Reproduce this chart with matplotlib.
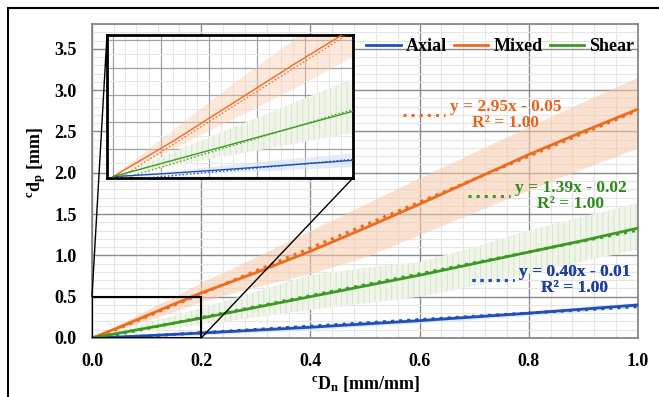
import numpy as np
import matplotlib
matplotlib.use("Agg")
import matplotlib.pyplot as plt
from matplotlib.lines import Line2D
from matplotlib.patches import Rectangle, ConnectionPatch
from matplotlib.ticker import MultipleLocator, FormatStrFormatter

plt.rcParams['font.family'] = 'Liberation Serif'
plt.rcParams['font.weight'] = 'bold'
plt.rcParams['axes.labelweight'] = 'bold'
plt.rcParams['mathtext.fontset'] = 'custom'
plt.rcParams['mathtext.rm'] = 'Liberation Serif:bold'
plt.rcParams['mathtext.it'] = 'Liberation Serif:bold'
plt.rcParams['mathtext.bf'] = 'Liberation Serif:bold'
plt.rcParams['hatch.linewidth'] = 0.6

# data
x = [0, 0.05, 0.1, 0.15, 0.2, 0.3, 0.4, 0.5, 0.6, 0.7, 0.8, 0.9, 1.0]
axial = [0, 0.013, 0.028, 0.044, 0.06, 0.095, 0.13, 0.17, 0.21, 0.255, 0.30, 0.35, 0.40]
mixed = [0, 0.13, 0.27, 0.41, 0.545, 0.79, 1.05, 1.33, 1.62, 1.92, 2.22, 2.5, 2.77]
shear = [0, 0.06, 0.12, 0.18, 0.24, 0.37, 0.5, 0.63, 0.76, 0.9, 1.04, 1.18, 1.33]

axial_hi = [0, 0.02, 0.045, 0.065, 0.085, 0.125, 0.16, 0.2, 0.24, 0.285, 0.33, 0.38, 0.43]
axial_lo = [0, 0.006, 0.015, 0.025, 0.035, 0.065, 0.1, 0.14, 0.18, 0.225, 0.27, 0.32, 0.37]
mixed_hi = [0, 0.17, 0.34, 0.5, 0.67, 0.98, 1.3, 1.62, 1.94, 2.25, 2.56, 2.86, 3.16]
mixed_lo = [0, 0.1, 0.21, 0.32, 0.44, 0.62, 0.78, 0.98, 1.25, 1.52, 1.79, 2.05, 2.3]
shear_hi = [0, 0.09, 0.18, 0.27, 0.36, 0.56, 0.76, 0.85, 0.92, 1.1, 1.3, 1.47, 1.63]
shear_lo = [0, 0.04, 0.08, 0.12, 0.16, 0.25, 0.34, 0.42, 0.5, 0.63, 0.78, 0.93, 1.07]

# trendline labels as printed on the chart
axial_eq = 'y = 0.40x - 0.01\nR² = 1.00'
mixed_eq = 'y = 2.95x - 0.05\nR² = 1.00'
shear_eq = 'y = 1.39x - 0.02\nR² = 1.00'

c_axial = '#1f4fb8'
c_mixed = '#ee6a1c'
c_shear = '#3c9a22'
t_axial = '#1f3f9f'
t_mixed = '#e8621a'
t_shear = '#2f8a1c'

xs = np.array(x)


def draw(a, lw, dot_lw, band_alpha):
    a.fill_between(x, mixed_lo, mixed_hi, color='#f9c9a8', alpha=band_alpha, lw=0)
    a.fill_between(x, shear_lo, shear_hi, facecolor='#f0f5ea', edgecolor='#d2e2c4',
                   hatch='|||', lw=0)
    a.fill_between(x, axial_lo, axial_hi, color='#d5def3', alpha=0.6, lw=0)
    for ys, c in [(axial, c_axial), (mixed, c_mixed), (shear, c_shear)]:
        k, b = np.polyfit(xs, ys, 1)
        a.plot(xs, k * xs + b, ls=':', color=c, lw=dot_lw, zorder=3)
    a.plot(x, axial, color=c_axial, lw=lw, zorder=4, label='Axial')
    a.plot(x, mixed, color=c_mixed, lw=lw, zorder=4, label='Mixed')
    a.plot(x, shear, color=c_shear, lw=lw, zorder=4, label='Shear')


fig = plt.figure(figsize=(6.59, 3.97), dpi=100)
ax = fig.add_axes([92/659, 1-338/397, 546/659, 314/397])
draw(ax, 2.0, 2.2, 0.55)

ax.set_xlim(0, 1.0)
ax.set_ylim(0, 3.8)
ax.xaxis.set_major_locator(MultipleLocator(0.2))
ax.xaxis.set_minor_locator(MultipleLocator(0.04))
ax.yaxis.set_major_locator(MultipleLocator(0.5))
ax.yaxis.set_minor_locator(MultipleLocator(0.1))
ax.grid(which='major', color='#8c8c8c', lw=1.0)
ax.grid(which='minor', color='#e4e4e4', lw=0.8)
ax.set_axisbelow(True)
for s in ax.spines.values():
    s.set_color('#7f7f7f')
    s.set_linewidth(1.2)
ax.tick_params(which='both', length=0, labelsize=13)
ax.tick_params(axis='x', pad=11)
ax.tick_params(axis='y', pad=11)
ax.xaxis.set_major_formatter(FormatStrFormatter('%.1f'))
ax.yaxis.set_major_formatter(FormatStrFormatter('%.1f'))
ax.set_xlabel(r'$^{\mathrm{c}}\mathrm{D}_{\mathrm{n}}$ [mm/mm]', fontsize=13, labelpad=3)
ax.set_ylabel(r'$^{\mathrm{c}}\mathrm{d}_{\mathrm{p}}$ [mm]', fontsize=13)
ax.yaxis.set_label_coords(-0.08, 0.56)

leg = ax.legend(loc='upper right', ncol=3, frameon=False, fontsize=13,
                handlelength=1.9, handletextpad=0.28, columnspacing=0.4,
                bbox_to_anchor=(0.993, 0.955), borderaxespad=0, borderpad=0)
ax.add_artist(leg)

for label, c, tc, pos in [(mixed_eq, c_mixed, t_mixed, (0.57, 0.71)),
                          (shear_eq, c_shear, t_shear, (0.689, 0.452)),
                          (axial_eq, c_axial, t_axial, (0.696, 0.185))]:
    lg = ax.legend([Line2D([], [], color=c, ls=':', lw=2.2)], [label],
                   loc='center left', bbox_to_anchor=pos, frameon=False,
                   fontsize=12.5, handlelength=2.4, handletextpad=0.3,
                   borderaxespad=0, borderpad=0, labelcolor=tc)
    for t in lg.get_texts():
        t.set_multialignment('center')
        t.set_linespacing(1.0)
    ax.add_artist(lg)

# zoom box and inset
ax.add_patch(Rectangle((0, 0), 0.2, 0.5, fill=False, ec='black', lw=1.5, zorder=6))
axins = fig.add_axes([107/659, 1-178/397, 246/659, 143/397])
draw(axins, 1.0, 1.0, 0.4)
axins.set_xlim(-0.005, 0.2)
axins.set_ylim(-0.005, 0.52)
axins.xaxis.set_major_locator(MultipleLocator(0.04))
axins.xaxis.set_minor_locator(MultipleLocator(0.01))
axins.yaxis.set_major_locator(MultipleLocator(0.1))
axins.yaxis.set_minor_locator(MultipleLocator(0.05))
axins.grid(which='major', color='#a0a0a0', lw=0.9)
axins.grid(which='minor', color='#e6e6e6', lw=0.7)
axins.set_axisbelow(True)
axins.tick_params(which='both', length=0, labelbottom=False, labelleft=False)
axins.set_facecolor('white')
for s in axins.spines.values():
    s.set_color('black')
    s.set_linewidth(2.0)

for xy_main, xy_ins in [((0, 0.5), (0, 1)), ((0.2, 0), (1, 0))]:
    con = ConnectionPatch(xyA=xy_main, coordsA=ax.transData, xyB=xy_ins,
                          coordsB=axins.transAxes, color='black', lw=1.0)
    fig.add_artist(con)

# outer frame
fig.add_artist(Rectangle((8/659, -0.1), 1.2, 1 - 8/397 + 0.1, fill=False,
                         ec='black', lw=1.5, transform=fig.transFigure))

fig.savefig('out.png', dpi=100)
